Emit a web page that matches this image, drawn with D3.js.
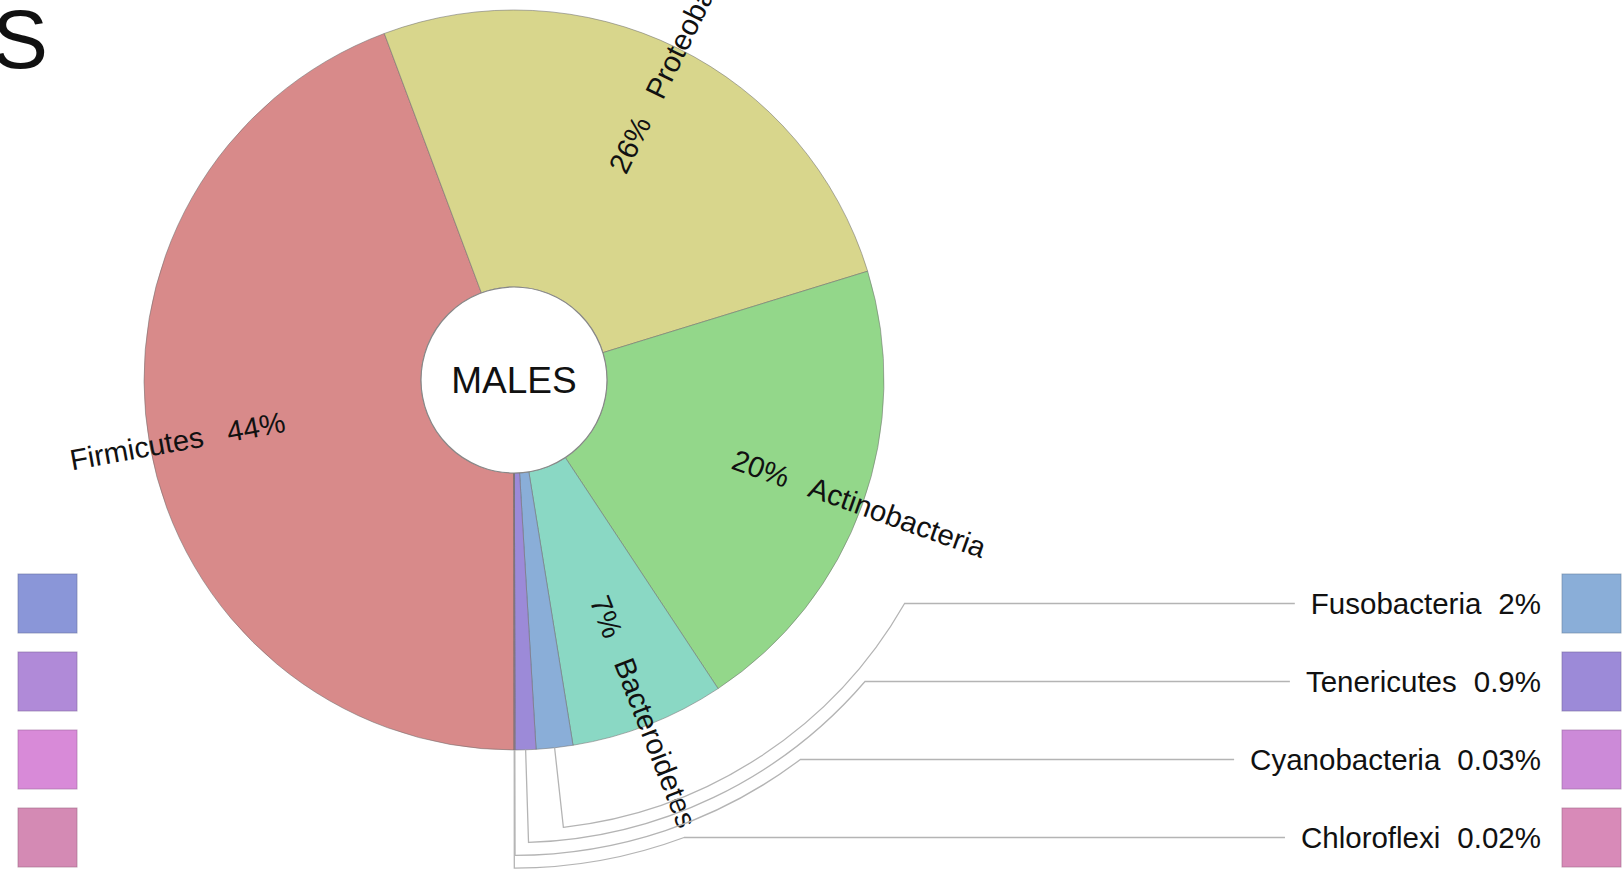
<!DOCTYPE html>
<html>
<head>
<meta charset="utf-8">
<script src="https://cdn.jsdelivr.net/npm/d3@7"></script>
<style>
  html, body { margin: 0; padding: 0; background: #fff; overflow: hidden; }
  svg { display: block; }
  text { font-family: "Liberation Sans", Arial, Helvetica, sans-serif; fill: #111; white-space: pre; }
</style>
</head>
<body>
<svg id="chart" width="1624" height="878"></svg>
<script>
// ---- data ----
const categories = ["Firmicutes", "Proteobacteria", "Actinobacteria", "Bacteroidetes", "Fusobacteria", "Tenericutes", "Cyanobacteria", "Chloroflexi"];
const values = [44.3, 25.95, 20.45, 6.75, 1.6, 0.9, 0.03, 0.02];
const pctLabels = ["44%", "26%", "20%", "7%", "2%", "0.9%", "0.03%", "0.02%"];
const sliceColors = ["#d88a8a", "#d8d68c", "#93d78a", "#8ad8c4", "#8aaed8", "#9c8ad8", "#cc8ad8", "#d88ab8"];
const leftLegendColors = ["#8a96d8", "#b08ad8", "#d88ad8", "#d48ab4"];
const centerLabel = "MALES";
const titleText = "S";

// ---- layout ----
const W = 1624, H = 878;
const cx = 514, cy = 380;
const outerR = 370, innerR = 93, labelR = 233;
const insideThreshold = 5;
const legendTop = 574, legendStep = 78, legendSize = 59;
const rightSquareX = 1562, rightTextEnd = 1541, leftSquareX = 18;
const leaderR0 = 450, leaderStep = 12.7;
const sliceFont = 29.3, legendFont = 29.5, nameGap = 17;
const TAU = 2 * Math.PI;

const svg = d3.select("#chart");

const data = categories.map((c, i) => ({ name: c, value: values[i], label: pctLabels[i], color: sliceColors[i], idx: i }));

const pie = d3.pie().sort(null).value(d => d.value).startAngle(Math.PI).endAngle(3 * Math.PI);
const arcs = pie(data);
const arcGen = d3.arc().innerRadius(innerR).outerRadius(outerR);

const g = svg.append("g").attr("transform", `translate(${cx},${cy})`);

// slices
g.selectAll("path.slice").data(arcs).join("path")
  .attr("class", "slice")
  .attr("d", arcGen)
  .attr("fill", d => d.data.color)
  .attr("stroke", "#6f6f6f")
  .attr("stroke-opacity", 0.55)
  .attr("stroke-width", 1);

// center circle
g.append("circle").attr("r", innerR).attr("fill", "#fff").attr("stroke", "#888").attr("stroke-width", 1.2);
g.append("text").attr("text-anchor", "middle").attr("dy", "0.35em")
  .style("font-size", "37px").text(centerLabel);

// inside labels
const inside = arcs.filter(a => a.data.value >= insideThreshold);
inside.forEach(a => {
  const m = (((a.startAngle + a.endAngle) / 2) % TAU + TAU) % TAU;
  const deg = m * 180 / Math.PI;
  const right = m < Math.PI;
  const t = g.append("text")
    .attr("dy", "0.35em")
    .style("font-size", sliceFont + "px");
  if (right) {
    t.attr("transform", `rotate(${deg - 90})`).attr("x", labelR).attr("text-anchor", "start")
      .text(a.data.label + "   " + a.data.name);
  } else {
    t.attr("transform", `rotate(${deg + 90})`).attr("x", -labelR).attr("text-anchor", "end")
      .text(a.data.name + "   " + a.data.label);
  }
});

// outside (legend) items with leader lines
const outside = arcs.filter(a => a.data.value < insideThreshold);
outside.forEach((a, i) => {
  const y = legendTop + i * legendStep + legendSize / 2;
  svg.append("rect")
    .attr("x", rightSquareX).attr("y", legendTop + i * legendStep)
    .attr("width", legendSize).attr("height", legendSize)
    .attr("fill", a.data.color)
    .attr("stroke", d3.color(a.data.color).darker(0.8))
    .attr("stroke-opacity", 0.6);
  const tv = svg.append("text")
    .attr("x", rightTextEnd).attr("y", y).attr("dy", "0.35em")
    .attr("text-anchor", "end")
    .style("font-size", legendFont + "px")
    .text(a.data.label);
  const vw = tv.node().getComputedTextLength();
  const tn = svg.append("text")
    .attr("x", rightTextEnd - vw - nameGap).attr("y", y).attr("dy", "0.35em")
    .attr("text-anchor", "end")
    .style("font-size", legendFont + "px")
    .text(a.data.name);
  const nw = tn.node().getComputedTextLength();
  const lineEnd = rightTextEnd - vw - nameGap - nw - 16;
  const m = (((a.startAngle + a.endAngle) / 2) % TAU + TAU) % TAU;
  const Rl = leaderR0 + i * leaderStep;
  const thetaEnd = Math.acos(-(y - cy) / Rl); // clockwise from top
  const p = d3.path();
  p.moveTo(cx + outerR * Math.sin(m), cy - outerR * Math.cos(m));
  p.lineTo(cx + Rl * Math.sin(m), cy - Rl * Math.cos(m));
  p.arc(cx, cy, Rl, m - Math.PI / 2, thetaEnd - Math.PI / 2, true);
  p.lineTo(lineEnd, y);
  svg.append("path").attr("d", p.toString())
    .attr("fill", "none").attr("stroke", "#b4b4b4").attr("stroke-width", 1.3);
});

// left legend (belongs to neighbouring chart)
leftLegendColors.forEach((c, i) => {
  svg.append("rect")
    .attr("x", leftSquareX).attr("y", legendTop + i * legendStep)
    .attr("width", legendSize).attr("height", legendSize)
    .attr("fill", c)
    .attr("stroke", d3.color(c).darker(0.8))
    .attr("stroke-opacity", 0.6);
});

// title fragment
svg.append("text").attr("x", 48).attr("y", 68).attr("text-anchor", "end")
  .style("font-size", "84px").text(titleText);
</script>
</body>
</html>
